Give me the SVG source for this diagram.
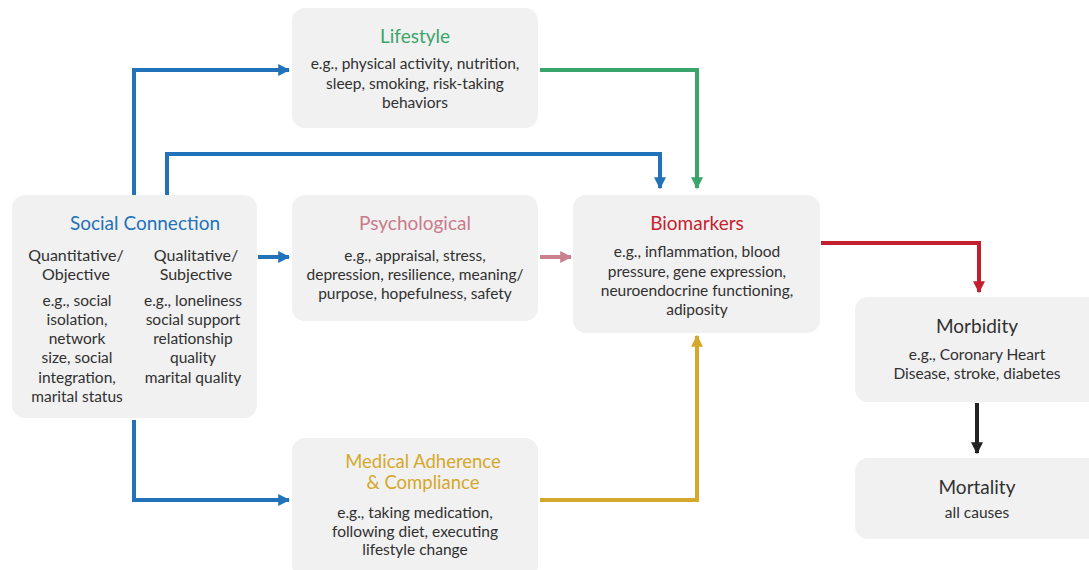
<svg xmlns="http://www.w3.org/2000/svg" width="1089" height="570" viewBox="0 0 1089 570">
<style>
.box{fill:#f1f1f1;}
text{font-family:Lato,"Open Sans","Noto Sans",sans-serif;text-anchor:middle;fill:#303030;}
.t{font-size:19px;}
.b{font-size:15.5px;}
.sub{font-size:16px;}
.c{fill:none;stroke-width:4;}
</style>
<defs>
<marker id="ab" viewBox="0 0 10 10" refX="9" refY="5" markerWidth="3" markerHeight="3" orient="auto" markerUnits="strokeWidth"><path d="M0,0 L10,5 L0,10 z" fill="#2272b9"/></marker>
<marker id="ag" viewBox="0 0 10 10" refX="9" refY="5" markerWidth="3" markerHeight="3" orient="auto" markerUnits="strokeWidth"><path d="M0,0 L10,5 L0,10 z" fill="#3aa56a"/></marker>
<marker id="ap" viewBox="0 0 10 10" refX="9" refY="5" markerWidth="3" markerHeight="3" orient="auto" markerUnits="strokeWidth"><path d="M0,0 L10,5 L0,10 z" fill="#c9818f"/></marker>
<marker id="ar" viewBox="0 0 10 10" refX="9" refY="5" markerWidth="3" markerHeight="3" orient="auto" markerUnits="strokeWidth"><path d="M0,0 L10,5 L0,10 z" fill="#c41f2f"/></marker>
<marker id="ay" viewBox="0 0 10 10" refX="9" refY="5" markerWidth="3" markerHeight="3" orient="auto" markerUnits="strokeWidth"><path d="M0,0 L10,5 L0,10 z" fill="#d5a82b"/></marker>
<marker id="ak" viewBox="0 0 10 10" refX="9" refY="5" markerWidth="3" markerHeight="3" orient="auto" markerUnits="strokeWidth"><path d="M0,0 L10,5 L0,10 z" fill="#222222"/></marker>
</defs>
<g id="connectors">
<path class="c" stroke="#2272b9" d="M134,195 V70 H289" marker-end="url(#ab)"/>
<path class="c" stroke="#2272b9" d="M167,195 V154 H660 V188" marker-end="url(#ab)"/>
<path class="c" stroke="#3aa56a" d="M540,70 H697 V188" marker-end="url(#ag)"/>
<path class="c" stroke="#2272b9" d="M258,257 H289" marker-end="url(#ab)"/>
<path class="c" stroke="#c9818f" d="M540,257 H571" marker-end="url(#ap)"/>
<path class="c" stroke="#2272b9" d="M134,420 V500 H289" marker-end="url(#ab)"/>
<path class="c" stroke="#d5a82b" d="M540,500 H697 V336" marker-end="url(#ay)"/>
<path class="c" stroke="#c41f2f" d="M821,243 H979 V292" marker-end="url(#ar)"/>
<path class="c" stroke="#222222" d="M977,403 V453" marker-end="url(#ak)"/>
</g>
<g id="social">
<rect class="box" x="12" y="195" width="245" height="223" rx="13"/>
<text class="t" x="145" y="230" style="fill:#2272b9">Social Connection</text>
<text class="sub" x="76" y="261">Quantitative/</text>
<text class="sub" x="76" y="280">Objective</text>
<text class="sub" x="196" y="261">Qualitative/</text>
<text class="sub" x="196" y="280">Subjective</text>
<text class="b" x="77" y="306">e.g., social</text>
<text class="b" x="77" y="325">isolation,</text>
<text class="b" x="77" y="344">network</text>
<text class="b" x="77" y="363">size, social</text>
<text class="b" x="77" y="383">integration,</text>
<text class="b" x="77" y="402">marital status</text>
<text class="b" x="193" y="306">e.g., loneliness</text>
<text class="b" x="193" y="325">social support</text>
<text class="b" x="193" y="344">relationship</text>
<text class="b" x="193" y="363">quality</text>
<text class="b" x="193" y="383">marital quality</text>
</g>
<g id="lifestyle">
<rect class="box" x="292" y="8" width="246" height="120" rx="13"/>
<text class="t" x="415" y="43" style="fill:#3aa56a">Lifestyle</text>
<text class="b" x="415" y="69">e.g., physical activity, nutrition,</text>
<text class="b" x="415" y="89">sleep, smoking, risk-taking</text>
<text class="b" x="415" y="108">behaviors</text>
</g>
<g id="psychological">
<rect class="box" x="292" y="195" width="246" height="126" rx="13"/>
<text class="t" x="415" y="230" style="fill:#c97a8c">Psychological</text>
<text class="b" x="415" y="261">e.g., appraisal, stress,</text>
<text class="b" x="415" y="280">depression, resilience, meaning/</text>
<text class="b" x="415" y="299">purpose, hopefulness, safety</text>
</g>
<g id="biomarkers">
<rect class="box" x="573" y="195" width="247" height="138" rx="13"/>
<text class="t" x="697" y="230" style="fill:#c41f2f">Biomarkers</text>
<text class="b" x="697" y="257">e.g., inflammation, blood</text>
<text class="b" x="697" y="277">pressure, gene expression,</text>
<text class="b" x="697" y="296">neuroendocrine functioning,</text>
<text class="b" x="697" y="315">adiposity</text>
</g>
<g id="medical">
<rect class="box" x="292" y="438" width="246" height="140" rx="13"/>
<text class="t" x="423" y="468" style="fill:#d5a82b;font-size:18.5px">Medical Adherence</text>
<text class="t" x="423" y="489" style="fill:#d5a82b;font-size:18.5px">&amp; Compliance</text>
<text class="b" x="415" y="518">e.g., taking medication,</text>
<text class="b" x="415" y="537">following diet, executing</text>
<text class="b" x="415" y="555">lifestyle change</text>
</g>
<g id="morbidity">
<rect class="box" x="855" y="297" width="250" height="105" rx="13"/>
<text class="t" x="977" y="333">Morbidity</text>
<text class="b" x="977" y="360">e.g., Coronary Heart</text>
<text class="b" x="977" y="379">Disease, stroke, diabetes</text>
</g>
<g id="mortality">
<rect class="box" x="855" y="458" width="250" height="81" rx="13"/>
<text class="t" x="977" y="494">Mortality</text>
<text class="b" x="977" y="518">all causes</text>
</g>
</svg>
